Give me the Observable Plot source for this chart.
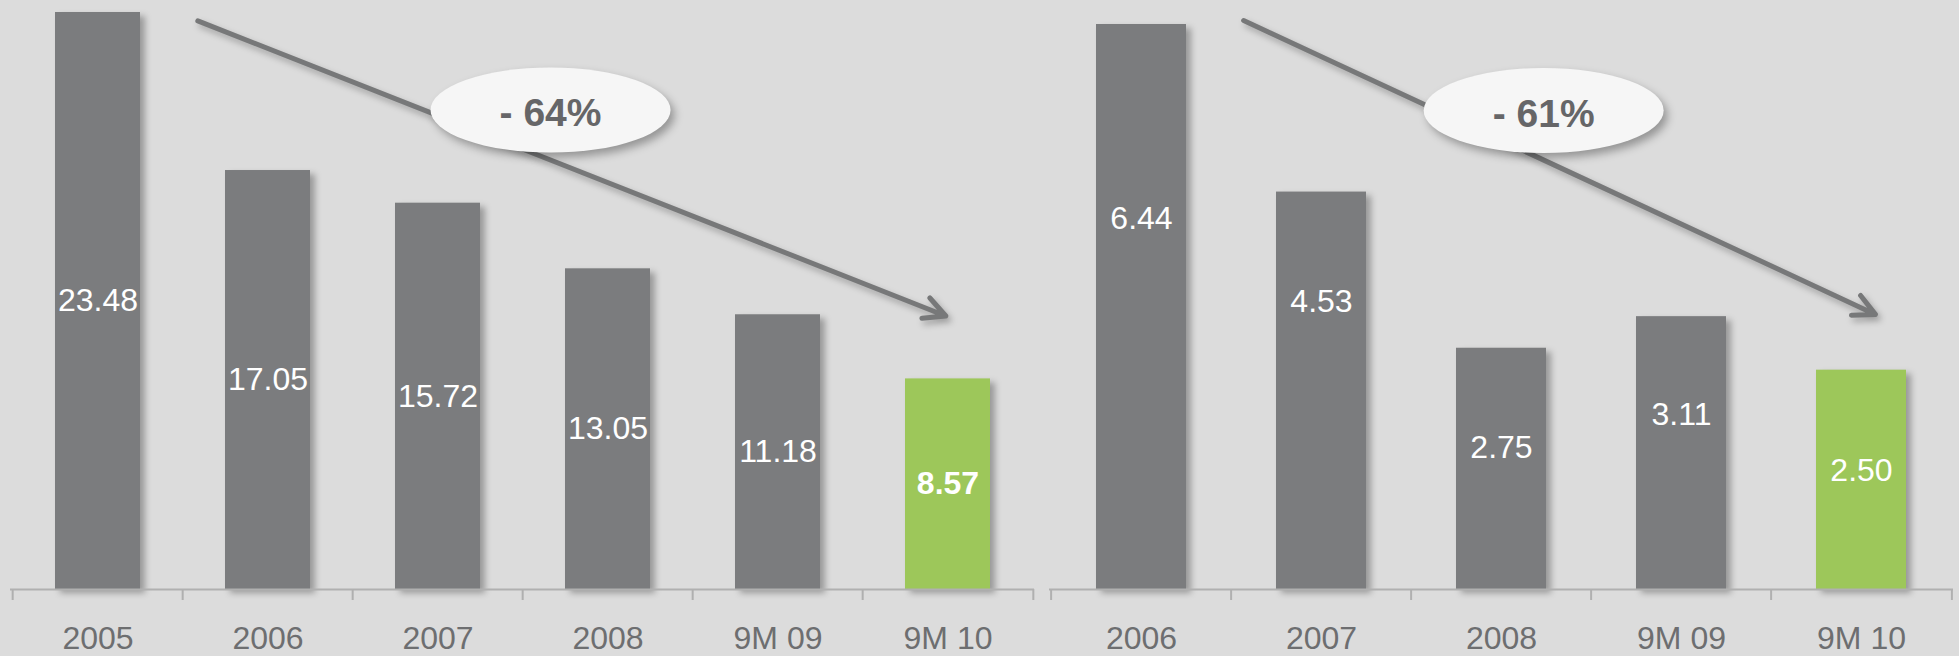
<!DOCTYPE html>
<html>
<head>
<meta charset="utf-8">
<script src="https://cdn.jsdelivr.net/npm/d3@7"></script>
<script src="https://cdn.jsdelivr.net/npm/@observablehq/plot@0.6"></script>
<style>
  html, body { margin: 0; padding: 0; background: #dcdcdc; }
  #chart { display: flex; width: 1959px; height: 656px; overflow: hidden; background: #dcdcdc; }
  #chart svg { display: block; flex: none; }
  g[aria-label="bar"] { filter: drop-shadow(5px 4px 3px rgba(0,0,0,0.30)); }
  .annot-line { filter: drop-shadow(3px 4px 3px rgba(0,0,0,0.28)); }
  .annot-ellipse { filter: drop-shadow(4px 5px 4px rgba(0,0,0,0.32)); }
</style>
</head>
<body>
<div id="chart"></div>
<script>
// ---- data ----
const leftCategories = ["2005", "2006", "2007", "2008", "9M 09", "9M 10"];
const leftValues = [23.48, 17.05, 15.72, 13.05, 11.18, 8.57];

const rightCategories = ["2006", "2007", "2008", "9M 09", "9M 10"];
const rightValues = [6.44, 4.53, 2.75, 3.11, 2.50];
// value at which each right-panel label sits
const rightLabelAt = [4.23, 3.28, 1.62, 1.99, 1.35];

// trend arrows: [fractional category index, value] for start and end
const leftArrow = [[0.59, 23.12], [4.99, 11.11]];
const rightArrow = [[0.57, 6.48], [4.08, 3.13]];
// badge centres: [fractional category index, value]
const leftBadge = [2.665, 19.49];
const rightBadge = [2.237, 5.454];

// ---- drawing ----
const FONT = '"Liberation Sans", Arial, sans-serif';
const GRAY = "#7b7c7e", GREEN = "#9dc75a", AXIS = "#b0b0b0";

function annotation(cats, arrow, badge, label) {
  return (index, scales) => {
    const x = scales.x, y = scales.y;
    const n = cats.length;
    const bw = x.bandwidth ? x.bandwidth() : 0;
    const st = x.step ? x.step() : (x(cats[n - 1]) - x(cats[0])) / (n - 1);
    const c0 = x(cats[0]) + bw / 2;
    const X = f => c0 + f * st;
    const [[f1, v1], [f2, v2]] = arrow;
    const x1 = X(f1), y1 = y(v1), x2 = X(f2), y2 = y(v2);
    const a = Math.atan2(y2 - y1, x2 - x1);
    const L = 24, h = 27 * Math.PI / 180;
    const p1 = [x2 - L * Math.cos(a - h), y2 - L * Math.sin(a - h)];
    const p2 = [x2 - L * Math.cos(a + h), y2 - L * Math.sin(a + h)];
    const g = d3.create("svg:g").attr("aria-label", "trend");
    g.append("path")
      .attr("class", "annot-line")
      .attr("d", `M${x1},${y1}L${x2},${y2}M${p1[0]},${p1[1]}L${x2},${y2}L${p2[0]},${p2[1]}`)
      .attr("fill", "none")
      .attr("stroke", "#777879")
      .attr("stroke-width", 5)
      .attr("stroke-linecap", "round")
      .attr("stroke-linejoin", "round");
    const cx = X(badge[0]), cy = y(badge[1]);
    g.append("ellipse")
      .attr("class", "annot-ellipse")
      .attr("cx", cx).attr("cy", cy)
      .attr("rx", 120).attr("ry", 42.5)
      .attr("fill", "#f6f6f6");
    g.append("text")
      .attr("x", cx).attr("y", cy).attr("dy", "0.42em")
      .attr("text-anchor", "middle")
      .attr("font-family", FONT)
      .attr("font-weight", "bold")
      .attr("font-size", 39)
      .attr("fill", "#666668")
      .text(label);
    return g.node();
  };
}

function panel({cats, vals, labelAt, boldLast, width, ml, mr, mt, arrow, badge}) {
  const H = 656, mb = 67;
  const n = cats.length;
  const data = cats.map((c, i) => ({cat: c, value: vals[i], at: labelAt[i], last: i === n - 1}));
  const step = (width - ml - mr) / n;
  const ymax = d3.max(vals);
  const ppu = (H - mb - mt) / ymax;
  const tickVal = 11 / ppu;
  const change = Math.round((1 - vals[n - 1] / vals[0]) * 100);
  const label = `- ${change}%`;
  const fmt = d => d.value.toFixed(2);
  return Plot.plot({
    width, height: H,
    marginLeft: ml, marginRight: mr, marginTop: mt, marginBottom: mb,
    style: {background: "transparent", fontFamily: FONT, fontSize: "32px", color: "#6d6e70", maxWidth: "none", overflow: "visible"},
    x: {domain: cats, paddingInner: 0.5, paddingOuter: 0.25, tickSize: 0, tickPadding: 37, label: null},
    y: {domain: [0, ymax], axis: null},
    marks: [
      Plot.barY(data.filter(d => !d.last), {x: "cat", y: "value", fill: GRAY}),
      Plot.barY(data.filter(d => d.last), {x: "cat", y: "value", fill: GREEN}),
      Plot.ruleY([0], {stroke: AXIS, strokeWidth: 2}),
      Plot.ruleX(cats, {x: d => d, dx: -step / 2, y1: 0, y2: -tickVal, stroke: AXIS, strokeWidth: 2}),
      Plot.ruleX([cats[n - 1]], {x: d => d, dx: step / 2, y1: 0, y2: -tickVal, stroke: AXIS, strokeWidth: 2}),
      Plot.text(data.filter(d => !(d.last && boldLast)), {x: "cat", y: "at", text: fmt, fill: "white", fontSize: 32}),
      Plot.text(data.filter(d => d.last && boldLast), {x: "cat", y: "at", text: fmt, fill: "white", fontSize: 32, fontWeight: "bold"}),
      annotation(cats, arrow, badge, label)
    ]
  });
}

const chart = document.getElementById("chart");
chart.append(panel({
  cats: leftCategories, vals: leftValues, labelAt: leftValues.map(v => v / 2), boldLast: true,
  width: 1040, ml: 10, mr: 6, mt: 12, arrow: leftArrow, badge: leftBadge
}));
chart.append(panel({
  cats: rightCategories, vals: rightValues, labelAt: rightLabelAt, boldLast: false,
  width: 919, ml: 9, mr: 6, mt: 24, arrow: rightArrow, badge: rightBadge
}));
</script>
</body>
</html>
